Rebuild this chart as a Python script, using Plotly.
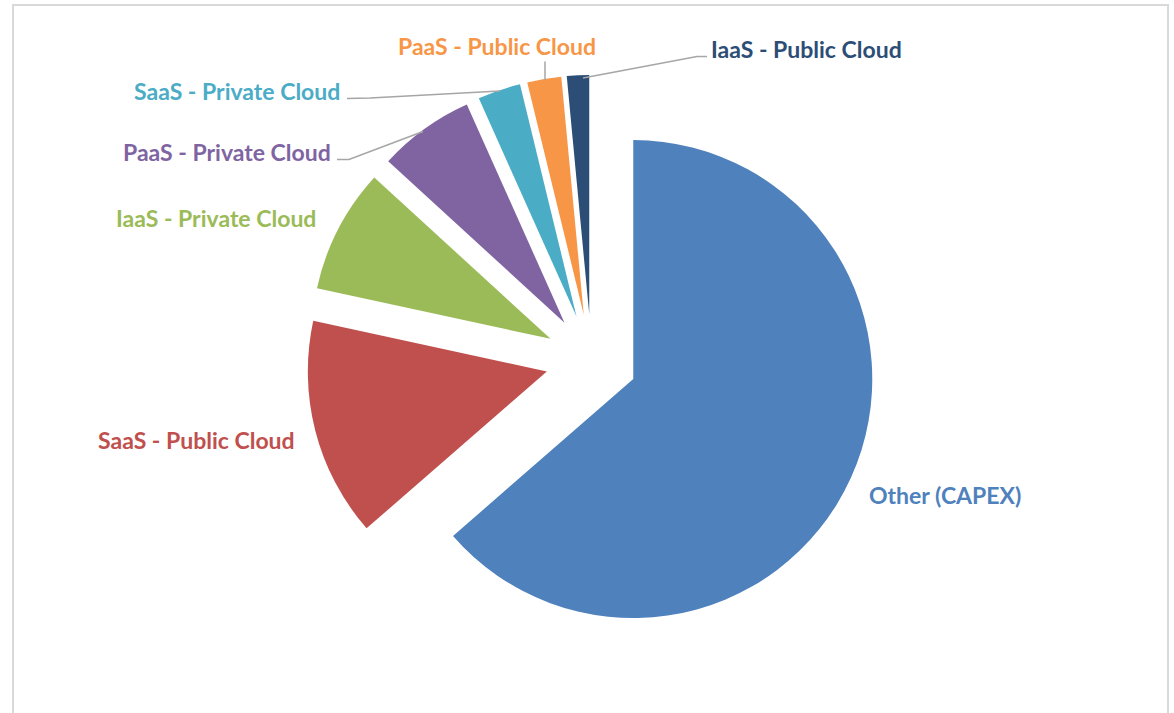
import plotly.graph_objects as go

# Cloud vs. on-premise spend split (percent of total)
categories = [
    "Other (CAPEX)",
    "SaaS - Public Cloud",
    "IaaS - Private Cloud",
    "PaaS - Private Cloud",
    "SaaS - Private Cloud",
    "PaaS - Public Cloud",
    "IaaS - Public Cloud",
]
shares = [63.6, 14.8, 8.4, 6.5, 2.9, 2.3, 1.5]
colors = ["#4F81BD", "#C0504D", "#9BBB59", "#8064A2", "#4BACC6", "#F79646", "#2C4D75"]

W, H = 1174, 713
PULL = 0.1925
CX, CY, R = 591.4, 360.0, 239.0  # pie centre and radius in page pixels


def px(x, y):
    """Page pixels (origin top-left) -> paper coordinates."""
    return x / W, 1 - y / H


half = R * (1 + PULL)
dom_x = [(CX - half) / W, (CX + half) / W]
dom_y = [1 - (CY + half) / H, 1 - (CY - half) / H]

fig = go.Figure(
    go.Pie(
        labels=categories,
        values=shares,
        sort=False,
        direction="clockwise",
        rotation=0,
        pull=[PULL] * len(shares),
        marker=dict(colors=colors, line=dict(width=0)),
        textinfo="none",
        hoverinfo="label+percent",
        domain=dict(x=dom_x, y=dom_y),
        showlegend=False,
    )
)

# label placement (centre of each text, page pixels)
label_pos = {
    "Other (CAPEX)": (945, 495),
    "SaaS - Public Cloud": (196, 440),
    "IaaS - Private Cloud": (216, 218),
    "PaaS - Private Cloud": (227, 152),
    "SaaS - Private Cloud": (237, 91),
    "PaaS - Public Cloud": (497, 46),
    "IaaS - Public Cloud": (806, 49),
}

annotations = []
for name, col in zip(categories, colors):
    x, y = px(*label_pos[name])
    annotations.append(
        dict(
            x=x, y=y, xref="paper", yref="paper",
            text=f"<b>{name}</b>", showarrow=False,
            xanchor="center", yanchor="middle",
            font=dict(family="Lato, Open Sans, sans-serif", size=23, color=col),
        )
    )

# leader lines for the thin slices
leaders = [
    [(347, 98.5), (370, 98), (500, 91)],
    [(337, 159.5), (349, 159.5), (423, 131.5)],
    [(545, 61.5), (545, 80)],
    [(707, 56.5), (697, 56.5), (583, 78)],
]
shapes = []
for pts in leaders:
    path = ""
    for i, p in enumerate(pts):
        x, y = px(*p)
        path += ("M" if i == 0 else " L") + f"{x:.5f},{y:.5f}"
    shapes.append(
        dict(type="path", path=path, xref="paper", yref="paper",
             line=dict(color="#A6A6A6", width=1.5))
    )

# chart-area frame
fx0, fy0 = px(13, 5)
fx1, fy1 = px(1168, 720)
shapes.append(
    dict(type="rect", xref="paper", yref="paper", x0=fx0, x1=fx1, y0=fy1, y1=fy0,
         line=dict(color="#D9D9D9", width=2), fillcolor="rgba(0,0,0,0)")
)

fig.update_layout(
    width=W, height=H,
    margin=dict(l=0, r=0, t=0, b=0),
    paper_bgcolor="white",
    plot_bgcolor="white",
    annotations=annotations,
    shapes=shapes,
)

fig.write_html("out.html")
